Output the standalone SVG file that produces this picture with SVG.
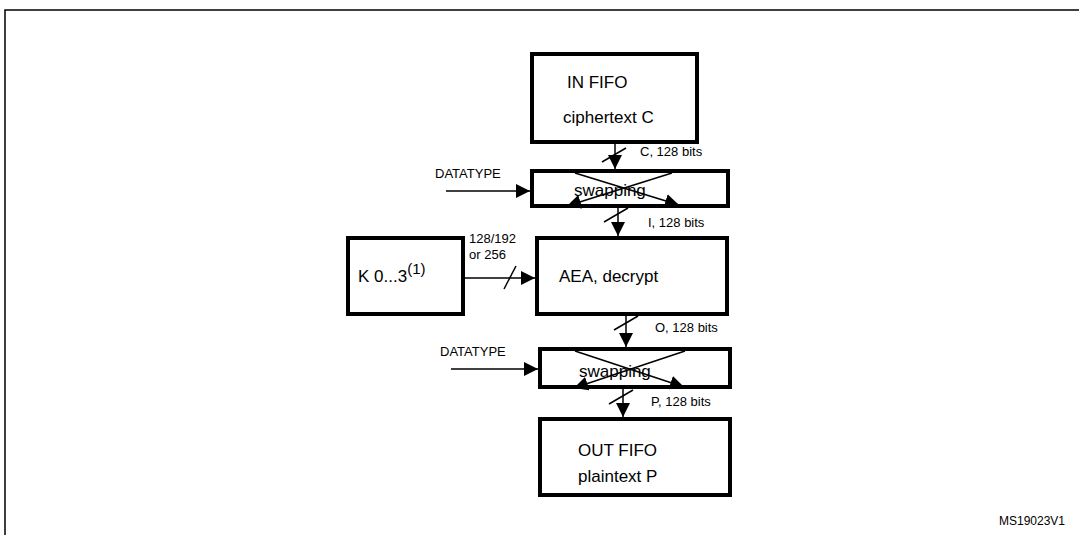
<svg xmlns="http://www.w3.org/2000/svg" width="1079" height="535" viewBox="0 0 1079 535">
<style>
.box{fill:#fff;stroke:#000;stroke-width:4}
.ln{stroke:#000;stroke-width:1.5;fill:none}
.t{font-family:"Liberation Sans",Arial,sans-serif;fill:#000}
.big{font-size:17px}
.sm{font-size:13px}
</style>
<defs>
<marker id="ah" viewBox="0 0 10 10" refX="10" refY="5" markerWidth="10" markerHeight="10" markerUnits="userSpaceOnUse" orient="auto"><path d="M0,0L10,5L0,10z" fill="#000"/></marker>
<marker id="ahb" viewBox="0 0 10 10" refX="10" refY="5" markerWidth="14" markerHeight="14" markerUnits="userSpaceOnUse" orient="auto"><path d="M0,0L10,5L0,10z" fill="#000"/></marker>
</defs>
<rect width="1079" height="535" fill="#fff"/>
<path d="M5,535V10H1079" class="ln" stroke-width="2"/>
<g id="infifo"><rect class="box" x="532" y="54" width="165" height="88"/><text class="t big" x="567" y="88">IN FIFO</text><text class="t big" x="563" y="123">ciphertext C</text></g>
<g id="swap1"><rect class="box" x="532" y="171" width="196" height="35"/>
<line class="ln" x1="575" y1="173" x2="679" y2="205" marker-end="url(#ahb)" stroke-width="1"/>
<line class="ln" x1="672" y1="173" x2="567" y2="206" marker-end="url(#ahb)" stroke-width="1"/>
<text class="t big" x="574" y="196">swapping</text></g>
<g id="aea"><rect class="box" x="537" y="238" width="190" height="76"/><text class="t big" x="559" y="282">AEA, decrypt</text></g>
<g id="key"><rect class="box" x="348" y="238" width="115" height="76"/><text class="t big" x="358" y="282">K 0...3<tspan font-size="15" dy="-8">(1)</tspan></text></g>
<g id="swap2"><rect class="box" x="540" y="349" width="190" height="38"/>
<line class="ln" x1="575" y1="351" x2="684" y2="387" marker-end="url(#ahb)" stroke-width="1"/>
<line class="ln" x1="685" y1="351" x2="574" y2="388" marker-end="url(#ahb)" stroke-width="1"/>
<text class="t big" x="579" y="377">swapping</text></g>
<g id="outfifo"><rect class="box" x="540" y="419" width="190" height="76"/><text class="t big" x="578" y="456">OUT FIFO</text><text class="t big" x="578" y="482">plaintext P</text></g>
<g id="connectors">
<line class="ln" x1="615" y1="144" x2="615" y2="169" marker-end="url(#ahb)"/><line class="ln" x1="602" y1="162" x2="626" y2="148"/>
<line class="ln" x1="618" y1="208" x2="618" y2="236" marker-end="url(#ahb)"/><line class="ln" x1="604" y1="222" x2="628" y2="208"/>
<line class="ln" x1="626" y1="316" x2="626" y2="347" marker-end="url(#ahb)"/><line class="ln" x1="614" y1="330" x2="638" y2="316"/>
<line class="ln" x1="623" y1="389" x2="623" y2="417" marker-end="url(#ahb)"/><line class="ln" x1="609" y1="404" x2="633" y2="390"/>
<line class="ln" x1="446" y1="191" x2="530" y2="191" marker-end="url(#ahb)"/>
<line class="ln" x1="451" y1="369" x2="538" y2="369" marker-end="url(#ahb)"/>
<line class="ln" x1="465" y1="278" x2="535" y2="278" marker-end="url(#ahb)"/><line class="ln" x1="504" y1="289" x2="516" y2="266"/>
</g>
<g id="labels">
<text class="t sm" x="640" y="156">C, 128 bits</text>
<text class="t sm" x="648" y="227">I, 128 bits</text>
<text class="t sm" x="655" y="332">O, 128 bits</text>
<text class="t sm" x="651" y="406">P, 128 bits</text>
<text class="t sm" x="435" y="178">DATATYPE</text>
<text class="t sm" x="440" y="356">DATATYPE</text>
<text class="t sm" x="469" y="243">128/192</text>
<text class="t sm" x="469" y="259">or 256</text>
<text class="t" font-size="12" x="999" y="525">MS19023V1</text>
</g>
</svg>
